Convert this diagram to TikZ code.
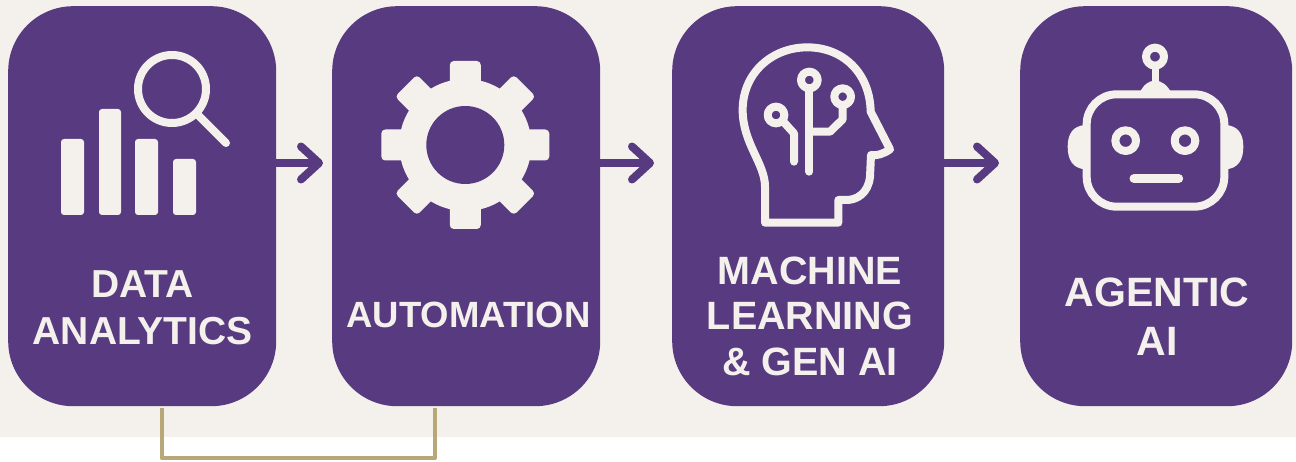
\documentclass[tikz,border=0pt]{standalone}
\usepackage{fontspec}
\setmainfont{Liberation Sans}
\usetikzlibrary{arrows.meta}
\definecolor{purp}{HTML}{583A80}
\definecolor{paper}{HTML}{F4F1ED}
\definecolor{gold}{HTML}{B8A878}
\tikzset{
  card/.style={fill=purp,draw=none,rectangle,rounded corners=65pt,inner sep=0pt,minimum height=400pt,anchor=north west},
  cardtext/.style={text=paper,align=center,inner sep=0pt},
  flow/.style={draw=purp,line width=8pt,-{Straight Barb[round,length=18pt,width=33pt,line width=8pt]}},
  bracket/.style={draw=gold,line width=4pt,line join=round},
  iconline/.style={draw=paper,line width=8pt,line cap=round,line join=round},
  iconfill/.style={fill=paper,draw=none},
  hole/.style={fill=purp,draw=none}
}
\begin{document}
\begin{tikzpicture}[x=1pt,y=-1pt]
\useasboundingbox (0,0) rectangle (1296,462);
\fill[white] (0,0) rectangle (1296,462);
\fill[paper] (0,0) rectangle (1296,437);

% cards
\node[card,minimum width=268pt] (b1) at (8,6) {};
\node[card,minimum width=268pt] (b2) at (332,6) {};
\node[card,minimum width=272pt] (b3) at (672,6) {};
\node[card,minimum width=272pt] (b4) at (1020,6) {};

% labels
\node[cardtext,font=\fontsize{39}{47}\selectfont\bfseries] (t1) at (142.5,308) {DATA\\ANALYTICS};
\node[cardtext,font=\fontsize{36.5}{47}\selectfont\bfseries] (t2) at (468.5,315) {AUTOMATION};
\node[cardtext,font=\fontsize{39.5}{45.5}\selectfont\bfseries] (t3) at (810,316) {MACHINE\\LEARNING\\\&\ GEN AI};
\node[cardtext,font=\fontsize{41}{49}\selectfont\bfseries] (t4) at (1157,317) {AGENTIC\\AI};

% arrows
\coordinate (a1) at (323,163);
\coordinate (a2) at (654,163);
\coordinate (a3) at (999,163);
\draw[flow] (b1.east |- a1) -- (a1);
\draw[flow] (b2.east |- a2) -- (a2);
\draw[flow] (b3.east |- a3) -- (a3);

% bracket under the first two cards
\coordinate (c1) at (161.5,408);
\coordinate (c2) at (435,408);
\draw[bracket] (c1) -- (161.5,458) -- (435,458) -- (c2);

% icon 1: bars and magnifier
\foreach \xa/\xb/\ya in {61/84/139,99/121/109,135/158/139,173/196/159}
  \fill[iconfill,rounded corners=3pt] (\xa,\ya) rectangle (\xb,215);
\draw[iconline] (172,89) circle[radius=34];
\draw[iconline] (198,115) -- (226,143);

% icon 2: gear
\begin{scope}[shift={(465.3,145)}]
  \foreach \r in {0,45,...,315}
    \fill[iconfill,rotate=\r,rounded corners=4pt] (-15.5,-50) rectangle (15.5,-84);
  \fill[iconfill] (0,0) circle[radius=66];
  \fill[hole] (0,0) circle[radius=39];
\end{scope}

% icon 3: head with circuit
\begin{scope}[shift={(700,30)},x=0.33333pt,y=-0.33333pt]
  \draw[iconline] (195,578) -- (195,470)
    .. controls (195,400) and (128,340) .. (128,240)
    .. controls (128,130) and (215,52) .. (322,52)
    .. controls (430,52) and (510,130) .. (512,245)
    -- (570,358)
    .. controls (550,372) and (530,378) .. (513,375)
    -- (510,440)
    .. controls (505,490) and (470,510) .. (440,510)
    -- (415,510) -- (415,578) -- cycle;
  \draw[iconline] (328,150) circle[radius=25];
  \draw[iconline] (428,200) circle[radius=25];
  \draw[iconline] (228,255) circle[radius=25];
  \draw[iconline] (328,178) -- (328,425);
  \draw[iconline] (428,228) -- (428,268) -- (390,305) -- (335,305);
  \draw[iconline] (250,275) -- (282,310) -- (282,395);
\end{scope}

% icon 4: robot
\begin{scope}[shift={(1030,30)},x=0.33333pt,y=-0.33333pt]
  \fill[iconfill] (165,285) .. controls (130,288) and (113,310) .. (113,350)
     .. controls (113,392) and (130,415) .. (165,418) -- cycle;
  \fill[iconfill] (588,285) .. controls (623,288) and (640,310) .. (640,350)
     .. controls (640,392) and (623,415) .. (588,418) -- cycle;
  \fill[iconfill] (328,190) .. controls (340,165) and (355,152) .. (375,152)
     .. controls (395,152) and (412,165) .. (425,190) -- cycle;
  \draw[draw=paper,line width=7pt] (375,110) -- (375,160);
  \draw[iconline] (375,80) circle[radius=27];
  \fill[hole] (170,193) rectangle (583,530);
  \draw[iconline,rounded corners=30pt] (170,193) rectangle (583,530);
  \draw[iconline] (287,332) circle[radius=31];
  \draw[iconline] (465,332) circle[radius=31];
  \draw[draw=paper,line width=9pt,line cap=round] (312,446) -- (446,446);
\end{scope}
\end{tikzpicture}
\end{document}
